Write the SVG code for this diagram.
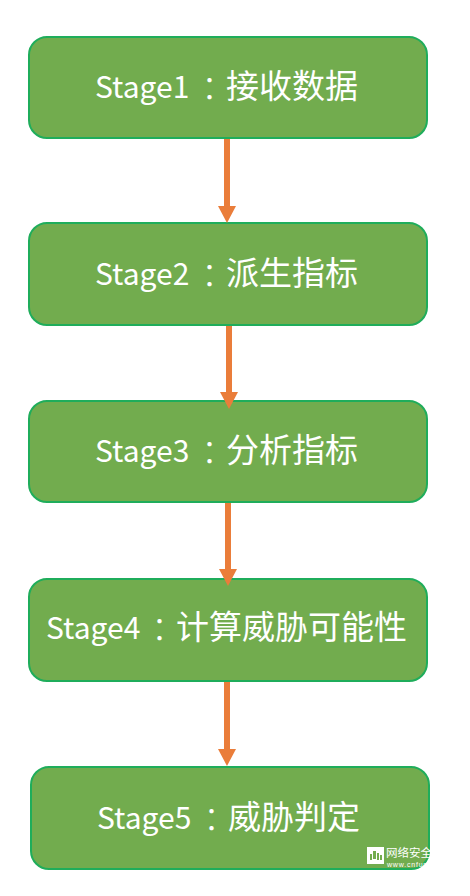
<svg xmlns="http://www.w3.org/2000/svg" width="470" height="896" viewBox="0 0 470 896">
<style>
.box{fill:#72ac4e;stroke:#1fad5b;stroke-width:2}
.lbl{font-family:"Noto Sans CJK SC","Noto Sans",sans-serif;font-size:30px;fill:#fff;font-weight:400}
.cjk{font-size:33px;font-weight:400}
.col{font-family:"Noto Sans CJK TC","Noto Sans",sans-serif;font-size:33px;font-weight:300}
.shaft{fill:#ea7d3a}
.wm{font-family:"Noto Sans CJK SC","Liberation Sans",sans-serif;fill:#fff}
.wm2{font-family:"Liberation Sans",sans-serif;fill:#fff}
</style>
<defs><clipPath id="wmclip"><rect x="340" y="830" width="92" height="50"/></clipPath></defs>
<rect width="470" height="896" fill="#fff"/>
<g id="node1"><rect class="box" x="29" y="37" width="398" height="101" rx="18"/><text class="lbl" x="95" y="98">Stage1<tspan class="col" x="193" dy="3">：</tspan><tspan class="cjk" x="226" dy="-3">接收数据</tspan></text></g>
<g id="node2"><rect class="box" x="29" y="223" width="398" height="102" rx="18"/><text class="lbl" x="95" y="285">Stage2<tspan class="col" x="193" dy="3">：</tspan><tspan class="cjk" x="226" dy="-3">派生指标</tspan></text></g>
<g id="node3"><rect class="box" x="29" y="401" width="398" height="101" rx="18"/><text class="lbl" x="95" y="462">Stage3<tspan class="col" x="193" dy="3">：</tspan><tspan class="cjk" x="226" dy="-3">分析指标</tspan></text></g>
<g id="node4"><rect class="box" x="29" y="579" width="398" height="102" rx="18"/><text class="lbl" x="46" y="639">Stage4<tspan class="col" x="143" dy="3">：</tspan><tspan class="cjk" x="176" dy="-3">计算威胁可能性</tspan></text></g>
<g id="node5"><rect class="box" x="31" y="767" width="398" height="102" rx="18"/><text class="lbl" x="97" y="829">Stage5<tspan class="col" x="195" dy="3">：</tspan><tspan class="cjk" x="228" dy="-3">威胁判定</tspan></text></g>
<g id="connectors">
<path class="shaft" d="M224 139h6v67h6l-9 17-9-17h6z"/>
<path class="shaft" d="M226 326h6v66h6l-9 17-9-17h6z"/>
<path class="shaft" d="M225 503h6v66h6l-9 17-9-17h6z"/>
<path class="shaft" d="M224 682h6v67h6l-9 17-9-17h6z"/>
</g>
<g id="watermark" clip-path="url(#wmclip)">
<rect x="367" y="847" width="17" height="17" fill="#fff"/>
<path d="M370 860v-6h2v6zM373 859v-8h3v8zM377 860v-7h2v7zM380 860v-5h2v5z" fill="#72ac4e"/>
<text class="wm" x="386" y="856.5" font-size="11.5">网络安全</text>
<text class="wm2" x="387" y="866.5" font-size="7" letter-spacing="0.8">www.cnfunc</text>
</g>
</svg>
